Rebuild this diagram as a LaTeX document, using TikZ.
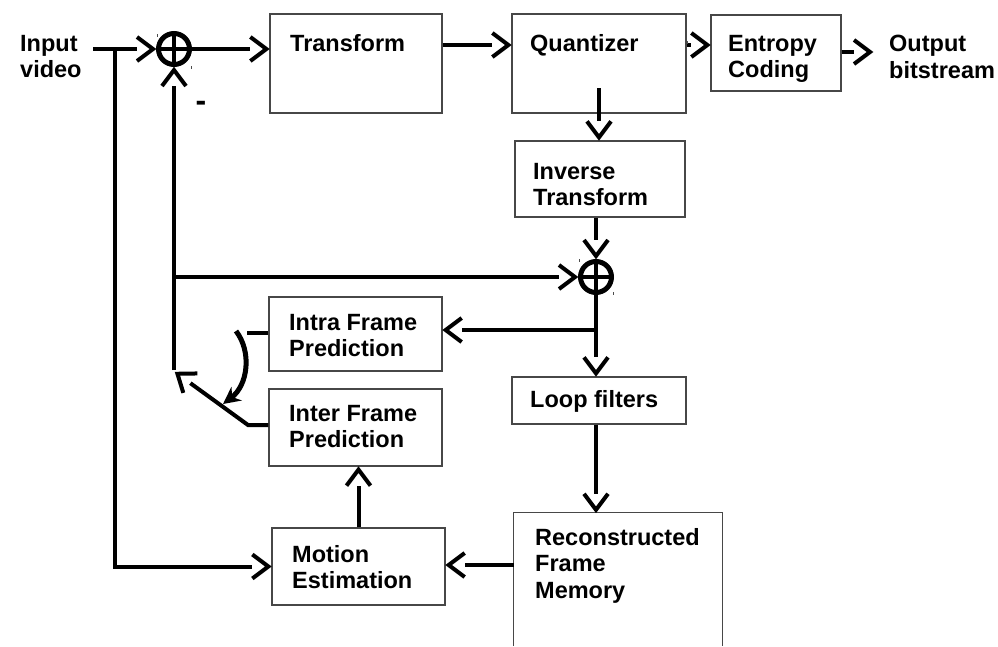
\documentclass[tikz,border=0pt]{standalone}
\usepackage{fontspec}
\setmainfont{Liberation Sans}
\usetikzlibrary{arrows.meta,calc}

% Open chevron tip whose shaft stops at the back of the barbs
\pgfdeclarearrow{
  name = Chevron,
  parameters = {\the\pgfarrowlength,\the\pgfarrowwidth},
  setup code = {
    \pgfarrowssettipend{0pt}
    \pgfarrowssetlineend{-\pgfarrowlength}
    \pgfarrowssetbackend{-\pgfarrowlength}
    \pgfarrowshullpoint{0pt}{0pt}
    \pgfarrowshullpoint{-\pgfarrowlength}{.5\pgfarrowwidth}
    \pgfarrowshullpoint{-\pgfarrowlength}{-.5\pgfarrowwidth}
    \pgfarrowssavethe\pgfarrowlength
    \pgfarrowssavethe\pgfarrowwidth
  },
  drawing code = {
    \pgfsetdash{}{0pt}
    \pgfsetmiterjoin
    \pgfsetbuttcap
    \pgfpathmoveto{\pgfqpoint{-\pgfarrowlength}{.5\pgfarrowwidth}}
    \pgfpathlineto{\pgfqpoint{-3pt}{0pt}}
    \pgfpathlineto{\pgfqpoint{-\pgfarrowlength}{-.5\pgfarrowwidth}}
    \pgfusepathqstroke
  },
  defaults = {length = 19pt, width = 24pt}
}

\colorlet{boxgray}{black!72}
\newcommand{\labelfont}{\fontsize{23.5}{26.5}\selectfont\bfseries}

\tikzset{
  wire/.style={line width=4pt, -{Chevron[length=19pt,width=24pt]}},
  plainwire/.style={line width=4pt},
  blk/.style={draw=boxgray, line width=1.3pt, inner sep=0pt},
  boxline/.style={draw=boxgray, line width=1.3pt},
  lbl/.style={font=\labelfont, align=left, anchor=north west, inner sep=0pt},
  sumnode/.style={circle, draw, line width=5pt, minimum size=31pt, inner sep=0pt,
    path picture={\draw[line width=3.5pt]
      (path picture bounding box.north) -- (path picture bounding box.south)
      (path picture bounding box.west) -- (path picture bounding box.east);}},
  speck/.style={line width=0.8pt, draw=black!70}
}

\begin{document}
\begin{tikzpicture}[x=1pt,y=-1pt]
\useasboundingbox (0,0) rectangle (998,646);

% processing blocks
\node[blk, minimum width=172pt, minimum height=99pt] (tr) at (356,63.5) {};
\node[blk, minimum width=174pt, minimum height=99pt] (qu) at (599,63.5) {};
\node[blk, minimum width=130pt, minimum height=76pt] (ec) at (776,53) {};
\node[blk, minimum width=170pt, minimum height=76pt] (it) at (600,179) {};
\node[blk, minimum width=173pt, minimum height=74pt] (ifp) at (355.5,334) {};
\node[blk, minimum width=174pt, minimum height=47pt] (lf) at (599,400.5) {};
\node[blk, minimum width=173pt, minimum height=77pt] (ifr) at (355.5,427.5) {};
\node[blk, minimum width=173pt, minimum height=77pt] (me) at (358.5,566.5) {};
\node[inner sep=0pt, minimum width=208pt, minimum height=133pt] (rfm) at (618,579.5) {};
\draw[boxline] (rfm.south west) -- (rfm.north west) -- (rfm.north east) -- (rfm.south east);

% summing junctions
\node[sumnode] (s1) at (174,49) {};
\node[sumnode] (s2) at (596,277) {};

% labels
\node[lbl] (tin)  at (20,35)   {Input\\video};
\node[lbl] (tout) at (889,35)  {Output\\bitstream};
\node[lbl] (ttr)  at (290,34)  {Transform};
\node[lbl] (tqu)  at (530,34)  {Quantizer};
\node[lbl] (tec)  at (728,35)  {Entropy\\Coding};
\node[lbl] (tit)  at (533,163) {Inverse\\Transform};
\node[lbl] (tifp) at (289,314) {Intra Frame\\Prediction};
\node[lbl] (tlf)  at (530,390) {Loop filters};
\node[lbl] (tifr) at (289,405) {Inter Frame\\Prediction};
\node[lbl] (tme)  at (292,545) {Motion\\Estimation};
\node[lbl] (trfm) at (535,528) {Reconstructed\\Frame\\Memory};
\node[font=\fontsize{32}{32}\selectfont\bfseries, inner sep=0pt] (minus) at (201,106) {-};

% free ends of connectors
\coordinate (inStart) at (93,49);
\coordinate (tap) at (115,49);
\coordinate (outTip) at (873,52);
\coordinate (qdrop) at (599,88);
\coordinate (split) at (596,330);
\coordinate (swA) at (247,333);
\coordinate (swB) at (248,425);
\coordinate (pole) at (175,372);
\coordinate (arcS) at (236,331);
\coordinate (arcE) at (223,404);

% forward path
\draw[wire] (inStart) -- (s1.west);
\draw[wire] (tap) |- (me.west);
\draw[wire] (s1.east) -- (s1.east -| tr.west);
\draw[wire] (tr.east |- 0,45) -- (qu.west |- 0,45);
\draw[wire] (qu.east |- 0,45) -- (ec.west |- 0,45);
\draw[wire] (ec.east |- outTip) -- (outTip);

% reconstruction loop
\draw[wire] (qdrop) -- (qdrop |- it.north);
\draw[wire] (it.south -| s2) -- (s2.north);
\draw[wire] (s2.south) -- (s2.south |- lf.north);
\draw[wire] (split) -- (split -| ifp.east);
\draw[wire] (lf.south -| s2) -- (rfm.north -| s2);
\draw[wire] (rfm.west |- 0,565) -- (me.east |- 0,565);
\draw[wire] (me.north) -- (me.north |- ifr.south);

% prediction feedback and mode switch
\draw[wire] (s1.south |- 0,370) -- (s1.south);
\draw[wire] (s1.south |- s2.west) -- (s2.west);
\draw[plainwire] (ifp.west |- swA) -- (swA);
\draw[wire] (ifr.west |- swB) -- (swB) -- (pole);
\draw[line width=5pt, -{Stealth[length=17pt,width=17pt]}]
  (arcS) .. controls (252,352) and (248,385) .. (arcE);

% small marks beside the junctions
\draw[speck] (157,34) -- (157,37);
\draw[speck] (191,66) -- (191,69);
\draw[speck] (579,259) -- (579,262);
\draw[speck] (613,292) -- (613,295);
\draw[speck] (687,41) -- (687,44);
\end{tikzpicture}
\end{document}
